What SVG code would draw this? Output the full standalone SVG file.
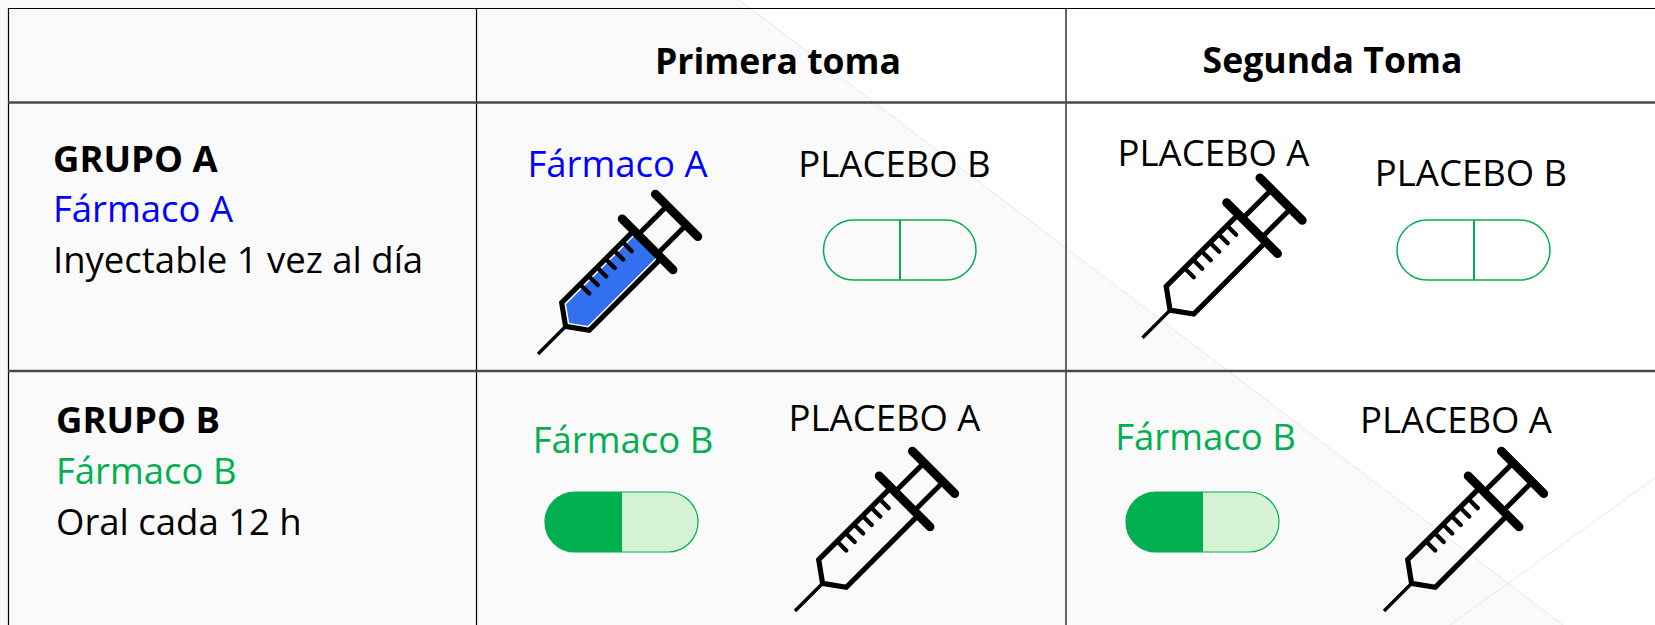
<svg xmlns="http://www.w3.org/2000/svg" width="1655" height="625" viewBox="0 0 1655 625">
<style>
.t{font-family:"Open Sans","Liberation Sans",sans-serif;font-size:36.5px;fill:#000}
.h{font-size:35.6px}
.m{text-anchor:middle}
.b{font-weight:700}
.blue{fill:#0000ff}
.green{fill:#00b050}
.grid{stroke:#000;stroke-width:1.2;fill:none}
.row{stroke:#4a4a4a;stroke-width:2.4;fill:none}
.pillo{fill:none;stroke:#00b050;stroke-width:1.5}
.pillf{fill:#d5f2d5;stroke:#00b050;stroke-width:1.2}
.pillh{fill:#00b050}
.sk{stroke:#000;fill:none}
</style>
<defs>
<g id="syr">
<line class="sk" x1="0" y1="0" x2="41" y2="0" stroke-width="3.4"/>
<path class="sk" d="M155,-19.5 L53,-19.5 L39,0 L53,19.5 L155,19.5" stroke-width="5.2" stroke-linejoin="miter"/>
<g class="sk" stroke-width="4.3" stroke-linecap="round">
<line x1="79" y1="-19" x2="79" y2="-6.5"/>
<line x1="91" y1="-19" x2="91" y2="-6.5"/>
<line x1="103" y1="-19" x2="103" y2="-6.5"/>
<line x1="115" y1="-19" x2="115" y2="-6.5"/>
<line x1="127" y1="-19" x2="127" y2="-6.5"/>
<line x1="139" y1="-19" x2="139" y2="-6.5"/>
</g>
<line class="sk" x1="155" y1="-36" x2="155" y2="36" stroke-width="8.8" stroke-linecap="round"/>
<line class="sk" x1="155" y1="-13.5" x2="196" y2="-13.5" stroke-width="5"/>
<line class="sk" x1="155" y1="13.5" x2="196" y2="13.5" stroke-width="5"/>
<line class="sk" x1="196" y1="-30" x2="196" y2="30" stroke-width="8.8" stroke-linecap="round"/>
</g>
</defs>

<g id="background">
<rect x="0" y="0" width="1655" height="625" fill="#fafafa"/>
<polygon points="739,0 1655,0 1655,625 1563,625" fill="#ffffff"/>
<line x1="739" y1="0" x2="1563" y2="625" stroke="#e6e6e6" stroke-width="1"/>
<line x1="1655" y1="478" x2="1450" y2="625" stroke="#e6e6e6" stroke-width="1"/>
</g>

<g id="connectors">
<line class="grid" x1="8" y1="8.5" x2="1655" y2="8.5"/>
<line class="grid" x1="8.5" y1="8" x2="8.5" y2="625"/>
<line class="grid" x1="476.5" y1="8" x2="476.5" y2="625"/>
<line class="grid" x1="1066" y1="8" x2="1066" y2="625"/>
<line class="row" x1="8" y1="102.5" x2="1655" y2="102.5"/>
<line class="row" x1="8" y1="371" x2="1655" y2="371"/>
</g>

<g id="header-primera">
<text class="t h b m" x="778" y="74">Primera toma</text>
</g>
<g id="header-segunda">
<text class="t h b m" x="1332.5" y="73">Segunda Toma</text>
</g>

<g id="grupo-a">
<text class="t b" x="53" y="172">GRUPO A</text>
<text class="t blue" x="53" y="222">Fármaco A</text>
<text class="t" x="53" y="273">Inyectable 1 vez al día</text>
</g>

<g id="grupo-b">
<text class="t b" x="56" y="433">GRUPO B</text>
<text class="t green" x="56" y="484">Fármaco B</text>
<text class="t" x="56" y="535">Oral cada 12 h</text>
</g>

<g id="a-primera-farmaco">
<text class="t blue m" x="617.5" y="177">Fármaco A</text>
<path d="M155,-19.5 L53,-19.5 L39,0 L53,19.5 L155,19.5 Z" transform="translate(538,354) rotate(-45)" fill="#3370f0" stroke="#ffffff" stroke-width="8.2"/>
<use href="#syr" transform="translate(538,354) rotate(-45)"/>
</g>

<g id="a-primera-placebo">
<text class="t m" x="894.5" y="177">PLACEBO B</text>
<rect class="pillo" x="823.5" y="220" width="152.5" height="60" rx="30"/>
<line x1="900" y1="220" x2="900" y2="280" stroke="#00b050" stroke-width="2"/>
</g>

<g id="a-segunda-placebo-a">
<text class="t m" x="1213.5" y="166">PLACEBO A</text>
<use href="#syr" transform="translate(1142.5,337.7) rotate(-45)"/>
</g>

<g id="a-segunda-placebo-b">
<text class="t m" x="1471" y="186">PLACEBO B</text>
<rect class="pillo" x="1397" y="220" width="153" height="60" rx="30"/>
<line x1="1474" y1="220" x2="1474" y2="280" stroke="#00b050" stroke-width="2"/>
</g>

<g id="b-primera-farmaco">
<text class="t green m" x="623" y="453">Fármaco B</text>
<rect class="pillf" x="545" y="492" width="153" height="60" rx="30"/>
<path class="pillh" d="M622,492 H575 A30,30 0 0 0 575,552 H622 Z"/>
</g>

<g id="b-primera-placebo">
<text class="t m" x="884.5" y="431">PLACEBO A</text>
<use href="#syr" transform="translate(795,611) rotate(-45)"/>
</g>

<g id="b-segunda-farmaco">
<text class="t green m" x="1205.5" y="450">Fármaco B</text>
<rect class="pillf" x="1126" y="492" width="153" height="60" rx="30"/>
<path class="pillh" d="M1203,492 H1156 A30,30 0 0 0 1156,552 H1203 Z"/>
</g>

<g id="b-segunda-placebo">
<text class="t m" x="1456" y="433">PLACEBO A</text>
<use href="#syr" transform="translate(1384,611) rotate(-45)"/>
</g>
</svg>
